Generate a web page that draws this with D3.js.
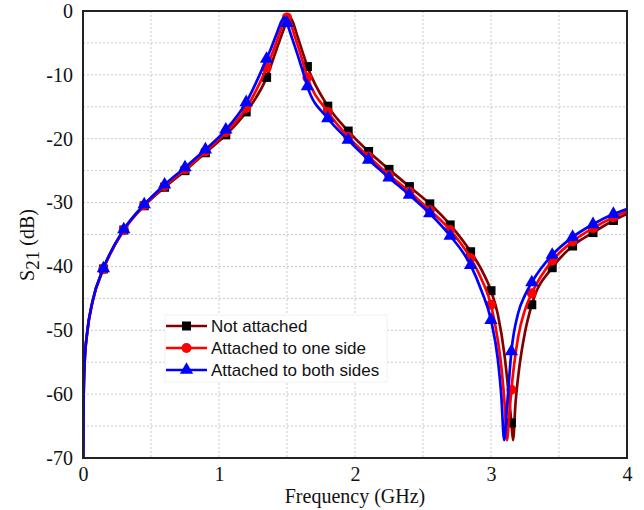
<!DOCTYPE html>
<html lang="en">
<head>
    <meta charset="UTF-8">
    <title>S21 vs Frequency</title>
    <style>
        body { margin: 0; background: #fff; }
        #chart { width: 644px; height: 510px; }
    </style>
</head>
<body>
<div id="chart"></div>

<script src="https://d3js.org/d3.v7.min.js"></script>
<script>
    // marker positions (every 0.15 GHz)
    const markerFreq = [0.15, 0.30, 0.45, 0.60, 0.75, 0.90, 1.05, 1.20, 1.35, 1.50, 1.65, 1.80, 1.95,
        2.10, 2.25, 2.40, 2.55, 2.70, 2.85, 3.00, 3.15, 3.30, 3.45, 3.60, 3.75, 3.90];

    // shared low-frequency part of all three curves
    const lowFreq = [0.002, 0.005, 0.012, 0.03, 0.07];
    const lowS21 = [-70, -60, -55, -50.5, -45.5];

    // Not attached
    const notAttachedFreq = [0.15, 0.30, 0.45, 0.60, 0.75, 0.90, 1.05, 1.20, 1.35, 1.42, 1.47, 1.50, 1.52, 1.54,
        1.57, 1.62, 1.65, 1.80, 1.95, 2.10, 2.25, 2.40, 2.55, 2.70, 2.85, 2.93, 3.00, 3.05, 3.10, 3.13, 3.15,
        3.162, 3.18, 3.21, 3.25, 3.30, 3.45, 3.60, 3.75, 3.90, 4.00];
    const notAttachedS21 = [-40.4, -34.3, -30.5, -27.6, -25.0, -22.2, -19.4, -15.8, -10.4, -6.2, -3.2, -1.6, -1.0, -1.6,
        -3.5, -6.8, -8.7, -14.9, -18.8, -22.0, -24.8, -27.5, -30.2, -33.5, -37.7, -40.5, -43.8, -47.5, -54.0, -60.0, -64.5,
        -67.2, -61.5, -55.5, -50.3, -46.0, -40.2, -36.8, -34.7, -32.8, -31.8];

    // Attached to one side
    const oneSideFreq = [0.15, 0.30, 0.45, 0.60, 0.75, 0.90, 1.05, 1.20, 1.35, 1.40, 1.45, 1.48, 1.50, 1.52,
        1.55, 1.60, 1.65, 1.80, 1.95, 2.10, 2.25, 2.40, 2.55, 2.70, 2.85, 2.93, 3.00, 3.05, 3.08, 3.10, 3.117,
        3.135, 3.15, 3.20, 3.25, 3.30, 3.45, 3.60, 3.75, 3.90, 4.00];
    const oneSideS21 = [-40.4, -34.3, -30.4, -27.4, -24.8, -22.0, -19.0, -15.2, -8.9, -6.2, -3.2, -1.6, -1.0, -1.6,
        -3.5, -6.8, -10.4, -15.8, -19.7, -22.8, -25.7, -28.3, -31.2, -34.3, -38.7, -42.0, -46.0, -51.5, -56.5, -61.5, -67.2,
        -63.0, -59.3, -51.0, -46.8, -44.2, -39.1, -36.1, -34.0, -32.3, -31.4];

    // Attached to both sides
    const bothSidesFreq = [0.15, 0.30, 0.45, 0.60, 0.75, 0.90, 1.05, 1.20, 1.35, 1.38, 1.43, 1.46, 1.48, 1.50,
        1.53, 1.58, 1.63, 1.65, 1.80, 1.95, 2.10, 2.25, 2.40, 2.55, 2.70, 2.85, 2.93, 3.00, 3.05, 3.075, 3.097,
        3.12, 3.15, 3.20, 3.25, 3.30, 3.45, 3.60, 3.75, 3.90, 4.00];
    const bothSidesS21 = [-40.3, -34.2, -30.3, -27.2, -24.5, -21.7, -18.6, -14.3, -7.5, -6.0, -3.2, -1.6, -1.0, -1.9,
        -3.8, -7.0, -10.4, -11.8, -16.8, -20.2, -23.3, -26.1, -28.8, -31.7, -35.2, -39.8, -43.8, -48.4, -54.5, -60.0, -67.2,
        -61.3, -53.3, -47.3, -44.5, -42.5, -38.2, -35.4, -33.4, -31.8, -31.0];

    const xTicks = [0, 1, 2, 3, 4];
    const yTicks = [0, -10, -20, -30, -40, -50, -60, -70];

    const series = [
        { name: "Not attached", freq: notAttachedFreq, s21: notAttachedS21, line: "#800000", fill: "#000", marker: "square" },
        { name: "Attached to one side", freq: oneSideFreq, s21: oneSideS21, line: "#ff0000", fill: "#ff0000", marker: "circle" },
        { name: "Attached to both sides", freq: bothSidesFreq, s21: bothSidesS21, line: "#0000ff", fill: "#0000ff", marker: "triangle" }
    ];

    const serif = "'Liberation Serif', 'Times New Roman', serif";

    const svg = d3.select("#chart").append("svg")
        .attr("width", 644)
        .attr("height", 510);

    const margin = { top: 11, right: 17, bottom: 52, left: 83 },
        width = 644 - margin.left - margin.right,
        height = 510 - margin.top - margin.bottom;

    const x = d3.scaleLinear().domain([0, 4]).range([0, width]);
    const y = d3.scaleLinear().domain([-70, 0]).range([height, 0]);

    const g = svg.append("g").attr("transform", `translate(${margin.left},${margin.top})`);

    // dotted grid every 0.5 GHz and 5 dB
    g.append("g").selectAll("line")
        .data(d3.range(0.5, 4, 0.5))
        .enter().append("line")
        .attr("x1", d => x(d)).attr("x2", d => x(d))
        .attr("y1", 0).attr("y2", height)
        .attr("stroke", "#c8c8c8").attr("stroke-width", 1).attr("stroke-dasharray", "2,2");

    g.append("g").selectAll("line")
        .data(d3.range(-65, 0, 5))
        .enter().append("line")
        .attr("x1", 0).attr("x2", width)
        .attr("y1", d => y(d)).attr("y2", d => y(d))
        .attr("stroke", "#c8c8c8").attr("stroke-width", 1).attr("stroke-dasharray", "2,2");

    // axes labels (no tick marks)
    const xAxis = g.append("g")
        .attr("transform", `translate(0,${height})`)
        .call(d3.axisBottom(x).tickValues(xTicks).tickSize(0).tickPadding(9).tickFormat(d3.format("d")));
    xAxis.select(".domain").remove();

    const yAxis = g.append("g")
        .call(d3.axisLeft(y).tickValues(yTicks).tickSize(0).tickPadding(10).tickFormat(d => d));
    yAxis.select(".domain").remove();

    [xAxis, yAxis].forEach(a => a.selectAll("text")
        .style("font-family", serif)
        .style("font-size", "20px")
        .attr("fill", "#111"));

    svg.append("defs").append("clipPath").attr("id", "plot-clip")
        .append("rect").attr("width", width).attr("height", height);

    const line = d3.line()
        .x(d => x(d[0]))
        .y(d => y(d[1]))
        .curve(d3.curveMonotoneX);

    const plot = g.append("g").attr("clip-path", "url(#plot-clip)");

    function drawMarker(sel, type, fill, size) {
        if (type === "square") {
            sel.append("rect")
                .attr("x", -size / 2).attr("y", -size / 2)
                .attr("width", size).attr("height", size)
                .attr("fill", fill);
        } else if (type === "circle") {
            sel.append("circle").attr("r", size / 2 + 0.5).attr("fill", fill);
        } else {
            sel.append("path")
                .attr("d", d3.symbol().type(d3.symbolTriangle).size(size * size * 0.95)())
                .attr("fill", fill);
        }
    }

    series.forEach(s => {
        const pts = lowFreq.map((f, i) => [f, lowS21[i]])
            .concat(s.freq.map((f, i) => [f, s.s21[i]]));

        plot.append("path")
            .datum(pts)
            .attr("fill", "none")
            .attr("stroke", s.line)
            .attr("stroke-width", 2.7)
            .attr("d", line);

        const marks = s.freq.map((f, i) => [f, s.s21[i]])
            .filter(p => markerFreq.some(m => Math.abs(m - p[0]) < 1e-6));

        marks.forEach(p => {
            const m = plot.append("g").attr("transform", `translate(${x(p[0])},${y(p[1])})`);
            drawMarker(m, s.marker, s.fill, 9);
        });
    });

    // frame
    g.append("rect")
        .attr("width", width).attr("height", height)
        .attr("fill", "none").attr("stroke", "#222").attr("stroke-width", 2);

    // axis titles
    svg.append("text")
        .attr("x", margin.left + width / 2)
        .attr("y", 503)
        .attr("text-anchor", "middle")
        .style("font-family", serif)
        .style("font-size", "20px")
        .attr("fill", "#111")
        .text("Frequency (GHz)");

    const yTitle = svg.append("text")
        .attr("transform", "translate(34,245) rotate(-90)")
        .attr("text-anchor", "middle")
        .style("font-family", serif)
        .style("font-size", "20px")
        .attr("fill", "#111");
    yTitle.append("tspan").text("S");
    yTitle.append("tspan").attr("dy", 5).style("font-size", "19px").text("21");
    yTitle.append("tspan").attr("dy", -5).text(" (dB)");

    // legend
    const legend = svg.append("g").attr("transform", "translate(165,315)");
    legend.append("rect")
        .attr("width", 222).attr("height", 67)
        .attr("fill", "#fff").attr("stroke", "#f2f2f2");

    series.forEach((s, i) => {
        const row = legend.append("g").attr("transform", `translate(0,${11 + i * 22})`);
        row.append("line")
            .attr("x1", 1).attr("x2", 42)
            .attr("stroke", s.line).attr("stroke-width", 2.7);
        drawMarker(row.append("g").attr("transform", "translate(21.5,0)"), s.marker, s.fill, 9);
        row.append("text")
            .attr("x", 46)
            .attr("y", 6)
            .style("font-family", "'Liberation Sans', Arial, sans-serif")
            .style("font-size", "17px")
            .attr("fill", "#111")
            .text(s.name);
    });
</script>
</body>
</html>
